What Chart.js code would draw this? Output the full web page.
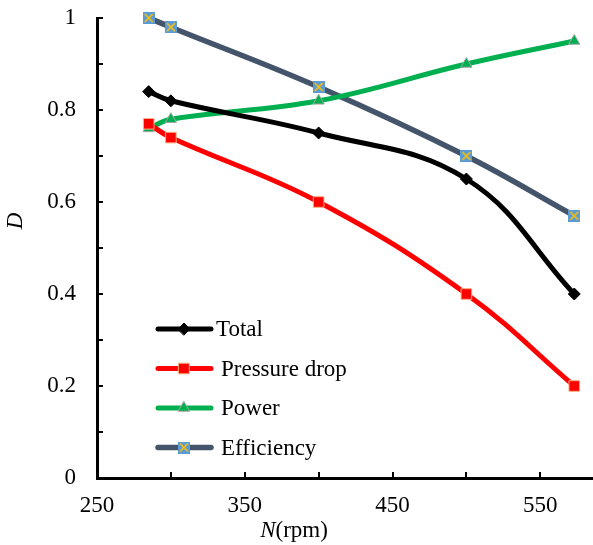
<!DOCTYPE html>
<html>
<head>
<meta charset="utf-8">
<script src="https://cdn.jsdelivr.net/npm/chart.js@4.4.0/dist/chart.umd.min.js"></script>
<style>
  html, body { margin: 0; padding: 0; background: #fff; }
  #wrap { width: 593px; height: 545px; }
</style>
</head>
<body>
<div id="wrap"><canvas id="chart"></canvas></div>
<script>
// values
var speeds = [285, 300, 400, 500, 573];
var totalD = [0.84, 0.82, 0.75, 0.65, 0.40];
var pressureD = [0.77, 0.74, 0.60, 0.40, 0.20];
var powerD = [0.76, 0.78, 0.82, 0.90, 0.95];
var efficiencyD = [1.00, 0.98, 0.85, 0.70, 0.57];
var seriesNames = ["Total", "Pressure drop", "Power", "Efficiency"];
var xTickLabels = [250, 350, 450, 550];
var yTickLabels = [0, 0.2, 0.4, 0.6, 0.8, 1];

var FONT = "'Liberation Serif', 'Times New Roman', serif";
var FONT_SIZE = 23;

function pairs(ys) {
    return speeds.map(function (x, i) { return { x: x, y: ys[i] }; });
}

// blue square with a yellow cross, used for the efficiency markers
function crossSquare(size) {
    var c = document.createElement("canvas");
    c.width = size; c.height = size;
    var g = c.getContext("2d");
    g.fillStyle = "#5B9BD5";
    g.fillRect(0, 0, size, size);
    g.strokeStyle = "#FFC000";
    g.lineWidth = 1.6;
    g.beginPath();
    g.moveTo(2, 2); g.lineTo(size - 2, size - 2);
    g.moveTo(size - 2, 2); g.lineTo(2, size - 2);
    g.stroke();
    return c;
}
var effMarker = crossSquare(12);

// tick marks pointing into the plot, like the original
var innerTicks = {
    id: "innerTicks",
    afterDraw: function (chart) {
        var ctx = chart.ctx, a = chart.chartArea;
        var xs = chart.scales.x, ys = chart.scales.y;
        ctx.save();
        ctx.strokeStyle = "#000";
        ctx.lineWidth = 2;
        ctx.beginPath();
        for (var v = 300; v <= 550; v += 50) {
            var px = Math.round(xs.getPixelForValue(v));
            ctx.moveTo(px, a.bottom); ctx.lineTo(px, a.bottom - 6);
        }
        for (var k = 1; k <= 10; k++) {
            var py = Math.round(ys.getPixelForValue(k / 10));
            ctx.moveTo(a.left, py); ctx.lineTo(a.left + 6, py);
        }
        ctx.stroke();
        ctx.restore();
    }
};

// axis titles: italic symbol + upright unit
var axisTitles = {
    id: "axisTitles",
    afterDraw: function (chart) {
        var ctx = chart.ctx;
        ctx.save();
        ctx.fillStyle = "#000";
        ctx.textBaseline = "middle";
        var italic = "italic " + FONT_SIZE + "px " + FONT;
        var plain = FONT_SIZE + "px " + FONT;
        ctx.font = italic;
        var wN = ctx.measureText("N").width;
        ctx.font = plain;
        var wU = ctx.measureText("(rpm)").width;
        var x0 = 294 - (wN + wU) / 2;
        ctx.textAlign = "left";
        ctx.font = italic;
        ctx.fillText("N", x0, 531);
        ctx.font = plain;
        ctx.fillText("(rpm)", x0 + wN, 531);

        ctx.translate(16, 221);
        ctx.rotate(-Math.PI / 2);
        ctx.textAlign = "center";
        ctx.font = italic;
        ctx.fillText("D", 0, 0);
        ctx.restore();
    }
};

// legend box inside the plot, line + marker like the original
var insideLegend = {
    id: "insideLegend",
    afterDraw: function (chart) {
        var ctx = chart.ctx;
        ctx.save();
        chart.data.datasets.forEach(function (ds, i) {
            var y = 329 + i * 39.5;
            ctx.strokeStyle = ds.borderColor;
            ctx.lineWidth = ds.borderWidth;
            ctx.lineCap = "round";
            ctx.beginPath();
            ctx.moveTo(158, y); ctx.lineTo(211, y);
            ctx.stroke();
            ctx.fillStyle = ds.pointBackgroundColor;
            ctx.strokeStyle = ds.pointBorderColor;
            ctx.lineWidth = ds.pointBorderWidth;
            Chart.helpers.drawPoint(ctx, {
                pointStyle: ds.pointStyle, radius: ds.pointRadius, rotation: 0, borderWidth: ds.pointBorderWidth
            }, 184, y);
            ctx.fillStyle = "#000";
            ctx.font = FONT_SIZE + "px " + FONT;
            ctx.textAlign = "left";
            ctx.textBaseline = "middle";
            ctx.fillText(ds.label, i === 0 ? 216 : 221, y + 1);
        });
        ctx.restore();
    }
};

new Chart(document.getElementById("chart"), {
    type: "line",
    data: {
        datasets: [{
            label: seriesNames[0],
            data: pairs(totalD),
            borderColor: "#000000",
            borderWidth: 5,
            pointStyle: "rectRot",
            pointRadius: 6,
            pointBackgroundColor: "#000000",
            pointBorderColor: "#000000",
            pointBorderWidth: 1
        }, {
            label: seriesNames[1],
            data: pairs(pressureD),
            borderColor: "#FF0000",
            borderWidth: 5,
            pointStyle: "rect",
            pointRadius: 7.5,
            pointBackgroundColor: "#FF0000",
            pointBorderColor: "#F4B183",
            pointBorderWidth: 1
        }, {
            label: seriesNames[2],
            data: pairs(powerD),
            borderColor: "#00B050",
            borderWidth: 5,
            pointStyle: "triangle",
            pointRadius: 6.5,
            pointBackgroundColor: "#00B050",
            pointBorderColor: "#A5A5A5",
            pointBorderWidth: 1
        }, {
            label: seriesNames[3],
            data: pairs(efficiencyD),
            borderColor: "#44546A",
            borderWidth: 5.5,
            pointStyle: effMarker,
            pointRadius: 6,
            pointBackgroundColor: "#5B9BD5",
            pointBorderColor: "#FFC000",
            pointBorderWidth: 1
        }]
    },
    options: {
        responsive: true,
        maintainAspectRatio: false,
        animation: false,
        clip: false,
        elements: { line: { tension: 0.4, fill: false } },
        layout: { autoPadding: false, padding: { top: 18, right: 1, left: 0, bottom: 0 } },
        plugins: {
            legend: { display: false },
            tooltip: { enabled: false }
        },
        scales: {
            x: {
                type: "linear",
                min: 250,
                max: 585,
                afterFit: function (s) { s.height = 67; s.paddingLeft = 0; s.paddingRight = 0; },
                border: { display: true, color: "#000", width: 3 },
                grid: { display: true, drawOnChartArea: false, drawTicks: false },
                ticks: {
                    stepSize: 50,
                    includeBounds: false,
                    maxRotation: 0,
                    autoSkip: false,
                    padding: 14,
                    color: "#000",
                    font: { family: FONT, size: FONT_SIZE },
                    callback: function (v) { return xTickLabels.indexOf(v) >= 0 ? String(v) : ""; }
                }
            },
            y: {
                min: 0,
                max: 1,
                afterFit: function (s) { s.width = 97; s.paddingTop = 0; s.paddingBottom = 0; },
                border: { display: true, color: "#000", width: 3 },
                grid: { display: true, drawOnChartArea: false, drawTicks: false },
                ticks: {
                    stepSize: 0.1,
                    autoSkip: false,
                    padding: 21,
                    color: "#000",
                    font: { family: FONT, size: FONT_SIZE },
                    callback: function (v) {
                        var r = Math.round(v * 10) / 10;
                        return yTickLabels.indexOf(r) >= 0 ? String(r) : "";
                    }
                }
            }
        }
    },
    plugins: [innerTicks, axisTitles, insideLegend]
});
</script>
</body>
</html>
